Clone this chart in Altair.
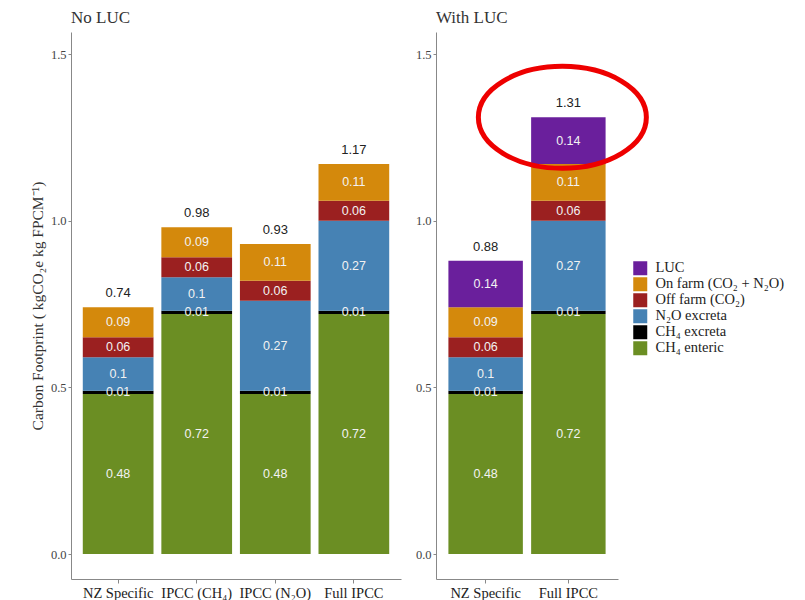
import altair as alt
import pandas as pd

# ---- data -------------------------------------------------------------
components = ["LUC", "On farm (CO₂ + N₂O)", "Off farm (CO₂)",
              "N₂O excreta", "CH₄ excreta", "CH₄ enteric"]
colors = ["#6a1f9c", "#d4890c", "#9b2020", "#4682b4", "#000000", "#6b8e23"]
stack_order = [5, 4, 3, 2, 1, 0]  # bottom = CH4 enteric

no_luc_cats = ["NZ Specific", "IPCC (CH₄)", "IPCC (N₂O)", "Full IPCC"]
no_luc_enteric = [0.48, 0.72, 0.48, 0.72]
no_luc_ch4_excreta = [0.01, 0.01, 0.01, 0.01]
no_luc_n2o_excreta = [0.10, 0.10, 0.27, 0.27]
no_luc_off_farm = [0.06, 0.06, 0.06, 0.06]
no_luc_on_farm = [0.09, 0.09, 0.11, 0.11]
no_luc_totals = [0.74, 0.98, 0.93, 1.17]

luc_cats = ["NZ Specific", "Full IPCC"]
luc_enteric = [0.48, 0.72]
luc_ch4_excreta = [0.01, 0.01]
luc_n2o_excreta = [0.10, 0.27]
luc_off_farm = [0.06, 0.06]
luc_on_farm = [0.09, 0.11]
luc_luc = [0.14, 0.14]
luc_totals = [0.88, 1.31]

highlight_cat = "Full IPCC"
highlight_value = 1.31


def long_df(cats, series):
    rows = []
    for comp, vals in series:
        for c, v in zip(cats, vals):
            rows.append({"cat": c, "comp": comp, "value": v,
                         "ord": stack_order[components.index(comp)]})
    return pd.DataFrame(rows)


no_luc_df = long_df(no_luc_cats, [
    ("CH₄ enteric", no_luc_enteric), ("CH₄ excreta", no_luc_ch4_excreta),
    ("N₂O excreta", no_luc_n2o_excreta), ("Off farm (CO₂)", no_luc_off_farm),
    ("On farm (CO₂ + N₂O)", no_luc_on_farm)])
luc_df = long_df(luc_cats, [
    ("CH₄ enteric", luc_enteric), ("CH₄ excreta", luc_ch4_excreta),
    ("N₂O excreta", luc_n2o_excreta), ("Off farm (CO₂)", luc_off_farm),
    ("On farm (CO₂ + N₂O)", luc_on_farm), ("LUC", luc_luc)])

no_luc_tot = pd.DataFrame({"cat": no_luc_cats, "total": no_luc_totals})
luc_tot = pd.DataFrame({"cat": luc_cats, "total": luc_totals})

SERIF = "Liberation Serif"
SANS = "Liberation Sans"
Y_DOMAIN = [-0.075, 1.566]
PLOT_H = 547


def panel(df, tot, cats, width, title, ytitle, ellipse=False):
    xenc = alt.X("cat:N", scale=alt.Scale(domain=cats, paddingInner=0.1, paddingOuter=0.15),
                 sort=cats,
                 axis=alt.Axis(title=None, labelAngle=0, labelFont=SERIF, labelFontSize=14.5,
                               labelColor="#222", tickSize=4, tickColor="#888",
                               domainColor="#888", labelPadding=3))
    yscale = alt.Scale(domain=Y_DOMAIN, nice=False, zero=False)
    yaxis = alt.Axis(values=[0, 0.5, 1.0, 1.5], format=".1f", grid=False,
                     labelFont=SERIF, labelFontSize=12.5, labelColor="#444",
                     tickSize=3, tickColor="#888", domainColor="#888",
                     title=ytitle if ytitle else None,
                     titleFont=SERIF, titleFontSize=15.5, titleFontWeight="normal",
                     titleColor="#333", titlePadding=5)
    base = alt.Chart(df).transform_stack(
        stack="value", groupby=["cat"], as_=["y0", "y1"],
        sort=[alt.SortField("ord", order="ascending")]
    ).transform_calculate(mid="(datum.y0 + datum.y1) / 2")

    bars = base.mark_bar().encode(
        x=xenc,
        y=alt.Y("y0:Q", scale=yscale, axis=yaxis),
        y2="y1:Q",
        color=alt.Color("comp:N", scale=alt.Scale(domain=components, range=colors),
                        legend=alt.Legend(title=None, orient="none", legendX=562, legendY=229,
                                          symbolType="square", symbolSize=196,
                                          symbolStrokeWidth=0, labelFont=SERIF,
                                          labelFontSize=14.5, labelColor="#222",
                                          labelOffset=8, rowPadding=0, labelLimit=300)),
    )
    labels = base.mark_text(font=SANS, fontSize=12.5, color="#f2f2f2").encode(
        x=alt.X("cat:N", sort=cats),
        y=alt.Y("mid:Q"),
        text=alt.Text("value:Q", format=".2~f"),
    )
    totals = alt.Chart(tot).mark_text(font=SANS, fontSize=13, color="#222", dy=-14).encode(
        x=alt.X("cat:N", sort=cats),
        y=alt.Y("total:Q"),
        text=alt.Text("total:Q", format=".2f"),
    )
    layers = [bars, labels, totals]
    if ellipse:
        edf = pd.DataFrame({"cat": [highlight_cat], "v": [highlight_value]})
        ell = alt.Chart(edf).mark_point(
            shape="M -1 0 A 1 0.607 0 1 0 1 0 A 1 0.607 0 1 0 -1 0 Z",
            size=168 * 168, filled=False, stroke="#ee0000", strokeWidth=5,
            opacity=1, xOffset=-6, clip=False
        ).encode(x=alt.X("cat:N", sort=cats), y=alt.Y("v:Q"))
        layers.append(ell)
    return alt.layer(*layers).properties(
        width=width, height=PLOT_H,
        title=alt.TitleParams(title, anchor="start", frame="group", font=SERIF,
                              fontSize=17, fontWeight="normal", color="#333", offset=5))


left = panel(no_luc_df, no_luc_tot, no_luc_cats, 330, "No LUC",
             "Carbon Footprint ( kgCO₂e kg FPCM⁻¹)")
right = panel(luc_df, luc_tot, luc_cats, 182, "With LUC", None, ellipse=True)

chart = alt.hconcat(left, right, spacing=14).properties(
    padding={"left": 30, "top": 9, "right": 5, "bottom": 5},
    background="white"
).configure_view(stroke=None)

chart.save("out.html", embed_options={"renderer": "svg", "actions": False})
